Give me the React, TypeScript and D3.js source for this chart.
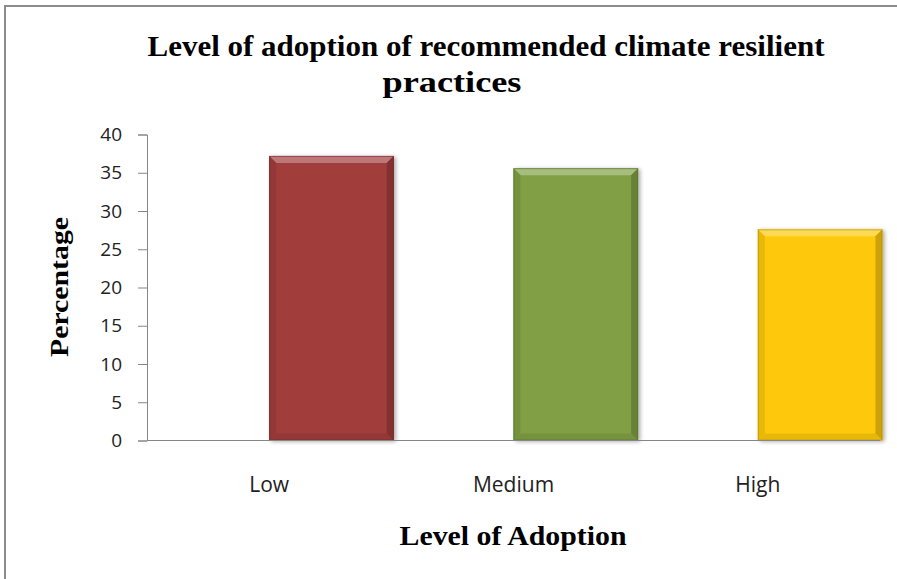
import { useEffect, useRef } from "react";
import * as d3 from "d3";

const categories = ["Low", "Medium", "High"];
const percentages = [37.2, 35.6, 27.6];
const barColors = ["#A13D3B", "#81A045", "#FEC90A"];
const yTicks = [0, 5, 10, 15, 20, 25, 30, 35, 40];

export default function App() {
  const ref = useRef<SVGSVGElement>(null);

  useEffect(() => {
    const svg = d3.select(ref.current);
    svg.selectAll("*").remove();

    const width = 897;
    const height = 579;
    const margin = { top: 134.5, right: 17, bottom: 138.5, left: 147 };

    svg.attr("width", width).attr("height", height);

    // outer frame (only top and left edges are visible in the crop)
    svg.append("path")
      .attr("d", `M5,${height} L5,6 L${width},6`)
      .attr("fill", "none")
      .attr("stroke", "#8c8c8c")
      .attr("stroke-width", 2);

    const x = d3.scaleBand()
      .domain(categories)
      .range([margin.left, width - margin.right]);

    const y = d3.scaleLinear()
      .domain([0, 40])
      .range([height - margin.bottom, margin.top]);

    const defs = svg.append("defs");
    const shadow = defs.append("filter").attr("id", "shadow")
      .attr("x", "-10%").attr("y", "-10%").attr("width", "130%").attr("height", "130%");
    shadow.append("feGaussianBlur").attr("in", "SourceAlpha").attr("stdDeviation", 2);
    shadow.append("feOffset").attr("dx", 2).attr("dy", 1).attr("result", "blur");
    shadow.append("feComponentTransfer").append("feFuncA").attr("type", "linear").attr("slope", 0.35);
    const merge = shadow.append("feMerge");
    merge.append("feMergeNode");
    merge.append("feMergeNode").attr("in", "SourceGraphic");

    const barW = x.bandwidth() * 0.51;
    const bevel = 7;

    const bars = svg.selectAll("g.bar")
      .data(categories.map((c, i) => ({ c, v: percentages[i], color: barColors[i] })))
      .join("g")
      .attr("class", "bar");

    bars.each(function (d) {
      const g = d3.select(this);
      const x0 = (x(d.c) as number) + x.bandwidth() / 2;
      const x1 = x0 + barW;
      const y0 = y(d.v);
      const y1 = y(0);
      const base = d3.color(d.color)!;
      const light = d3.interpolateRgb(d.color, "#ffffff")(0.3);
      const dark = base.darker(0.6).formatHex();
      const mid = base.darker(0.25).formatHex();

      g.append("rect")
        .attr("x", x0).attr("y", y0)
        .attr("width", barW).attr("height", y1 - y0)
        .attr("fill", d.color)
        .attr("filter", "url(#shadow)");

      const poly = (pts: number[][], fill: string) =>
        g.append("polygon")
          .attr("points", pts.map(p => p.join(",")).join(" "))
          .attr("fill", fill);

      // top bevel
      poly([[x0, y0], [x1, y0], [x1 - bevel, y0 + bevel], [x0 + bevel, y0 + bevel]], light);
      // bottom bevel
      poly([[x0, y1], [x1, y1], [x1 - bevel, y1 - bevel], [x0 + bevel, y1 - bevel]], mid);
      // left bevel
      poly([[x0, y0], [x0 + bevel, y0 + bevel], [x0 + bevel, y1 - bevel], [x0, y1]], mid);
      // right bevel
      poly([[x1, y0], [x1 - bevel, y0 + bevel], [x1 - bevel, y1 - bevel], [x1, y1]], dark);

      g.append("rect")
        .attr("x", x0 + 0.5).attr("y", y0 + 0.5)
        .attr("width", barW - 1).attr("height", y1 - y0 - 1)
        .attr("fill", "none")
        .attr("stroke", base.darker(1).formatHex())
        .attr("stroke-opacity", 0.6);
    });

    // y axis
    const yAxis = svg.append("g")
      .attr("transform", `translate(${margin.left},0)`)
      .call(d3.axisLeft(y).tickValues(yTicks).tickSize(9).tickPadding(16));
    yAxis.select(".domain").attr("stroke", "#868686");
    yAxis.selectAll(".tick line").attr("stroke", "#868686");
    yAxis.selectAll(".tick text")
      .attr("font-family", "'Open Sans', sans-serif")
      .attr("font-size", 19)
      .attr("fill", "#222");

    // x axis
    svg.append("line")
      .attr("x1", margin.left).attr("x2", width - margin.right)
      .attr("y1", y(0)).attr("y2", y(0))
      .attr("stroke", "#868686");

    svg.selectAll("text.cat")
      .data(categories)
      .join("text")
      .attr("class", "cat")
      .attr("x", d => (x(d) as number) + x.bandwidth() / 2)
      .attr("y", 492)
      .attr("text-anchor", "middle")
      .attr("font-family", "'Open Sans', sans-serif")
      .attr("font-size", 21)
      .attr("fill", "#222")
      .text(d => d);

    // titles
    const serif = "'Liberation Serif', 'Times New Roman', serif";
    svg.append("text")
      .attr("x", 486).attr("y", 56)
      .attr("text-anchor", "middle")
      .attr("font-family", serif)
      .attr("font-weight", "bold")
      .attr("font-size", 30)
      .attr("textLength", 677)
      .attr("lengthAdjust", "spacingAndGlyphs")
      .text("Level of adoption of recommended climate resilient");

    svg.append("text")
      .attr("x", 452).attr("y", 92)
      .attr("text-anchor", "middle")
      .attr("font-family", serif)
      .attr("font-weight", "bold")
      .attr("font-size", 30)
      .attr("textLength", 139)
      .attr("lengthAdjust", "spacingAndGlyphs")
      .text("practices");

    svg.append("text")
      .attr("transform", `translate(68,287) rotate(-90)`)
      .attr("text-anchor", "middle")
      .attr("font-family", serif)
      .attr("font-weight", "bold")
      .attr("font-size", 26)
      .attr("textLength", 140)
      .attr("lengthAdjust", "spacingAndGlyphs")
      .text("Percentage");

    svg.append("text")
      .attr("x", 513).attr("y", 545)
      .attr("text-anchor", "middle")
      .attr("font-family", serif)
      .attr("font-weight", "bold")
      .attr("font-size", 27)
      .attr("textLength", 227)
      .attr("lengthAdjust", "spacingAndGlyphs")
      .text("Level of Adoption");
  }, []);

  return <svg ref={ref} style={{ position: "absolute", left: 0, top: 0 }}></svg>;
}
